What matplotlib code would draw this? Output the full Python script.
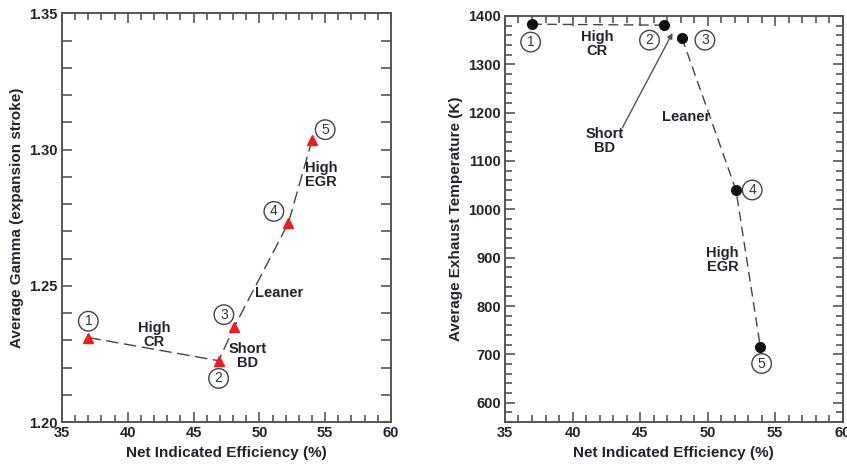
import numpy as np
import matplotlib
matplotlib.use('Agg')
import matplotlib.pyplot as plt
from matplotlib.ticker import MultipleLocator

plt.rcParams['font.family'] = ['Liberation Sans', 'DejaVu Sans']

# data
eff_gamma = [37.0, 46.9, 48.1, 52.2, 54.0]
gamma = [1.231, 1.2225, 1.235, 1.273, 1.3035]

eff_temp = [37.0, 46.8, 48.1, 52.1, 53.9]
temp = [1383, 1381, 1355, 1040, 716]

point_ids = ['1', '2', '3', '4', '5']
# label positions for circled numbers
gamma_id_pos = [(37.0, 1.237), (46.9, 1.216), (47.3, 1.2394), (51.1, 1.2773), (55.0, 1.3073)]
temp_id_pos = [(36.9, 1346), (45.7, 1350), (49.8, 1350), (53.3, 1040), (54.0, 681)]

txt_col = '#23232f'
spine_col = '#555555'

fig = plt.figure(figsize=(8.47, 4.66), dpi=100)
ax1 = fig.add_axes([0.0732, 0.0944, 0.3884, 0.877])
ax2 = fig.add_axes([0.5962, 0.0944, 0.3987, 0.8713])

def style(ax):
    for s in ax.spines.values():
        s.set_color(spine_col)
        s.set_linewidth(1.4)
    ax.tick_params(which='both', direction='in', top=True, right=True, color=spine_col,
                   labelcolor=txt_col, labelsize=10.5, width=1.2, pad=3)
    ax.tick_params(which='major', length=7)
    ax.tick_params(which='minor', length=5)
    for lab in ax.get_xticklabels() + ax.get_yticklabels():
        lab.set_fontweight('bold')

circ = dict(boxstyle='circle,pad=0.2', fc='white', ec='#444444', lw=1.0)
bold = dict(fontsize=10.5, fontweight='bold', color=txt_col, ha='center', va='center', linespacing=1.0)

# left: gamma
ax1.plot(eff_gamma, gamma, ls=(0, (9, 4)), color='#444444', lw=1.0)
ax1.plot(eff_gamma, gamma, ls='none', marker='^', color='#ee1c1c', ms=7)
ax1.set_xlim(35, 60)
ax1.set_ylim(1.20, 1.35)
ax1.xaxis.set_major_locator(MultipleLocator(5))
ax1.xaxis.set_minor_locator(MultipleLocator(1))
ax1.yaxis.set_major_locator(MultipleLocator(0.05))
ax1.yaxis.set_minor_locator(MultipleLocator(0.01))
ax1.set_yticks([1.20, 1.25, 1.30, 1.35])
ax1.set_yticklabels(['1.20', '1.25', '1.30', '1.35'])
style(ax1)
ax1.tick_params(axis='y', which='minor', length=7)
ax1.set_xlabel('Net Indicated Efficiency (%)', fontsize=11, fontweight='bold', color=txt_col, labelpad=4)
ax1.set_ylabel('Average Gamma (expansion stroke)', fontsize=11, fontweight='bold', color=txt_col, labelpad=4)
for pid, (x, y) in zip(point_ids, gamma_id_pos):
    ax1.text(x, y, pid, fontsize=10, color='#333333', ha='center', va='center', bbox=circ)
ax1.text(42.0, 1.2318, 'High\nCR', **bold)
ax1.text(49.1, 1.2242, 'Short\nBD', **bold)
ax1.text(51.5, 1.2475, 'Leaner', **bold)
ax1.text(54.7, 1.2905, 'High\nEGR', **bold)

# right: exhaust temperature
ax2.plot(eff_temp[:2], temp[:2], ls=(0, (7, 4)), color='#444444', lw=1.0)
ax2.plot(eff_temp[2:], temp[2:], ls=(0, (7, 4)), color='#444444', lw=1.0)
ax2.plot(eff_temp, temp, ls='none', marker='o', color='#111111', ms=7)
ax2.set_xlim(35, 60)
ax2.set_ylim(560, 1400)
ax2.xaxis.set_major_locator(MultipleLocator(5))
ax2.xaxis.set_minor_locator(MultipleLocator(1))
ax2.yaxis.set_major_locator(MultipleLocator(100))
ax2.yaxis.set_minor_locator(MultipleLocator(20))
ax2.set_yticks(np.arange(600, 1401, 100))
style(ax2)
ax2.set_xlabel('Net Indicated Efficiency (%)', fontsize=11, fontweight='bold', color=txt_col, labelpad=4)
ax2.set_ylabel('Average Exhaust Temperature (K)', fontsize=11, fontweight='bold', color=txt_col, labelpad=4)
for pid, (x, y) in zip(point_ids, temp_id_pos):
    ax2.text(x, y, pid, fontsize=10, color='#333333', ha='center', va='center', bbox=circ)
ax2.text(41.8, 1342, 'High\nCR', **bold)
ax2.text(42.4, 1142, 'Short\nBD', **bold)
ax2.text(48.4, 1190, 'Leaner', **bold)
ax2.text(51.1, 896, 'High\nEGR', **bold)
ax2.annotate('', xy=(47.5, 1370), xytext=(43.6, 1164),
             arrowprops=dict(arrowstyle='-|>', color='#555555', lw=1.0, mutation_scale=8))

fig.savefig('out.png', dpi=100)
